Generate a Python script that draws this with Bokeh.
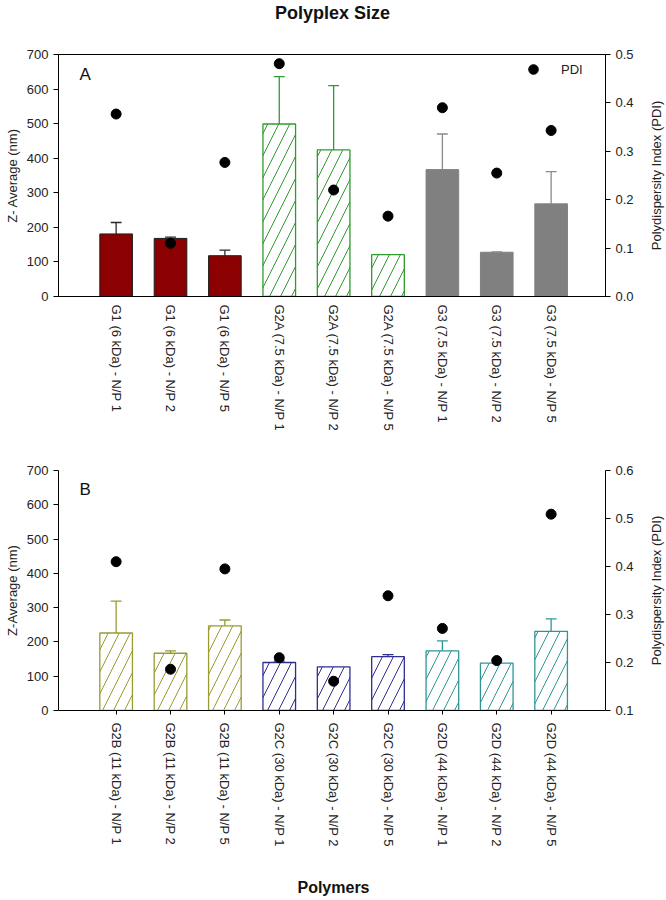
import math
from bokeh.plotting import figure
from bokeh.models import (Range1d, LinearAxis, FixedTicker, Legend, LegendItem, Label,
                          ColumnDataSource, NumeralTickFormatter)
from bokeh.layouts import column, row
from bokeh.embed import file_html
from bokeh.resources import INLINE

FONT = "Liberation Sans"

# ---------------- Panel A data ----------------
labels_a = ["G1 (6 kDa) - N/P 1", "G1 (6 kDa) - N/P 2", "G1 (6 kDa) - N/P 5",
            "G2A (7.5 kDa) - N/P 1", "G2A (7.5 kDa) - N/P 2", "G2A (7.5 kDa) - N/P 5",
            "G3 (7.5 kDa) - N/P 1", "G3 (7.5 kDa) - N/P 2", "G3 (7.5 kDa) - N/P 5"]
groups_a = ["G1", "G1", "G1", "G2A", "G2A", "G2A", "G3", "G3", "G3"]
zavg_a = [181, 168, 118, 499, 424, 121, 367, 128, 268]
zerr_a = [33, 4, 16, 137, 186, 0, 103, 1, 93]
pdi_a = [0.377, 0.110, 0.277, 0.481, 0.220, 0.166, 0.390, 0.255, 0.343]

# ---------------- Panel B data ----------------
labels_b = ["G2B (11 kDa) - N/P 1", "G2B (11 kDa) - N/P 2", "G2B (11 kDa) - N/P 5",
            "G2C (30 kDa) - N/P 1", "G2C (30 kDa) - N/P 2", "G2C (30 kDa) - N/P 5",
            "G2D (44 kDa) - N/P 1", "G2D (44 kDa) - N/P 2", "G2D (44 kDa) - N/P 5"]
groups_b = ["G2B", "G2B", "G2B", "G2C", "G2C", "G2C", "G2D", "G2D", "G2D"]
zavg_b = [226, 167, 247, 140, 127, 157, 174, 138, 231]
zerr_b = [93, 7, 17, 4, 0, 6, 29, 0, 36]
pdi_b = [0.410, 0.186, 0.395, 0.210, 0.161, 0.339, 0.271, 0.204, 0.509]

zavg_ticks = [0, 100, 200, 300, 400, 500, 600, 700]
pdi_ticks_a = [0.0, 0.1, 0.2, 0.3, 0.4, 0.5]
pdi_ticks_b = [0.1, 0.2, 0.3, 0.4, 0.5, 0.6]

STYLE = {
    "G1": dict(fill="#8b0000", line="#1e1e1e", err="#2a2a2a", hatch=False),
    "G2A": dict(fill="white", line="#2f9a2f", err="#2f9a2f", hatch=True),
    "G3": dict(fill="#808080", line="#808080", err="#8a8a8a", hatch=False),
    "G2B": dict(fill="white", line="#9a9a32", err="#9a9a32", hatch=True),
    "G2C": dict(fill="white", line="#2e2e92", err="#2e2e92", hatch=True),
    "G2D": dict(fill="white", line="#2f9696", err="#2f9696", hatch=True),
}

MAIN_W = 639       # width of each chart figure
SIDE_W = 26        # strip holding the right-axis title
TOTAL_W = MAIN_W + SIDE_W
FRAME_L, FRAME_R = 58, 605
PDI_TITLE = "Polydispersity Index (PDI)"


def style_axis(ax, tick_out=5):
    ax.axis_line_color = "black"
    ax.axis_line_width = 1
    ax.major_tick_out = tick_out
    ax.major_tick_in = 0
    ax.major_tick_line_color = "black"
    ax.minor_tick_line_color = None
    ax.major_label_text_font = FONT
    ax.major_label_text_font_size = "13px"
    ax.major_label_text_color = "#222222"
    ax.axis_label_text_font = FONT
    ax.axis_label_text_font_size = "13px"
    ax.axis_label_text_font_style = "normal"
    ax.axis_label_text_color = "#222222"


def strip(width, height, text, x, y, size):
    s = figure(width=width, height=height, x_axis_type=None, y_axis_type=None,
               output_backend="svg", toolbar_location=None, min_border=0,
               outline_line_color=None)
    s.add_layout(Label(x=x, y=y, x_units="screen", y_units="screen", text=text,
                       text_align="center", text_baseline="middle", text_font=FONT,
                       text_font_size=size, text_font_style="bold", text_color="#111111"))
    return s


def side_title(height, text, top, frame_h):
    # a tick-less left axis whose label reads bottom-to-top, like the reference's right title
    s = figure(width=SIDE_W, height=height, x_range=Range1d(0, 1), y_range=Range1d(0, 1),
               x_axis_type=None, output_backend="svg", toolbar_location=None,
               min_border_left=SIDE_W - 2, min_border_right=0, min_border_top=top,
               min_border_bottom=height - top - frame_h, outline_line_color=None)
    s.grid.visible = False
    ax = s.yaxis[0]
    ax.ticker = FixedTicker(ticks=[])
    ax.axis_line_color = None
    ax.major_tick_line_color = None
    ax.minor_tick_line_color = None
    ax.axis_label = text
    ax.axis_label_standoff = 0
    ax.axis_label_text_font = FONT
    ax.axis_label_text_font_size = "13px"
    ax.axis_label_text_font_style = "normal"
    ax.axis_label_text_color = "#222222"
    return s


def panel(labels, groups, zavg, zerr, pdi, pdi_lo, pdi_hi, pdi_ticks, letter, letter_y,
          ylabel, height, top, frame_h, xtick_len, outline):
    xs = list(range(1, len(labels) + 1))
    p = figure(width=MAIN_W, height=height, x_range=Range1d(-0.06, 10.0),
               y_range=Range1d(0, 700), output_backend="svg", toolbar_location=None,
               min_border_left=FRAME_L, min_border_right=MAIN_W - FRAME_R,
               min_border_top=top, min_border_bottom=height - top - frame_h)
    p.xgrid.visible = False
    p.ygrid.visible = False
    p.outline_line_color = "black" if outline else None
    p.extra_y_ranges = {"pdi": Range1d(pdi_lo, pdi_hi)}

    def src(idx):
        return ColumnDataSource(dict(
            x=[xs[i] for i in idx],
            top=[zavg[i] for i in idx],
            fill=[STYLE[groups[i]]["fill"] for i in idx],
            line=[STYLE[groups[i]]["line"] for i in idx]))

    solid = [i for i, g in enumerate(groups) if not STYLE[g]["hatch"]]
    hatched = [i for i, g in enumerate(groups) if STYLE[g]["hatch"]]
    if solid:
        p.vbar(x="x", top="top", bottom=0, width=0.6, source=src(solid),
               fill_color="fill", line_color="line", line_width=1)
    if hatched:
        p.vbar(x="x", top="top", bottom=0, width=0.6, source=src(hatched),
               fill_color="white", line_color="line", line_width=1.3,
               hatch_pattern="/", hatch_color="line", hatch_scale=22, hatch_weight=1)

    eidx = [i for i in range(len(xs)) if zerr[i] > 0]
    es = ColumnDataSource(dict(
        x=[xs[i] for i in eidx],
        xl=[xs[i] - 0.1 for i in eidx],
        xr=[xs[i] + 0.1 for i in eidx],
        y0=[zavg[i] for i in eidx],
        y1=[zavg[i] + zerr[i] for i in eidx],
        c=[STYLE[groups[i]]["err"] for i in eidx]))
    p.segment(x0="x", y0="y0", x1="x", y1="y1", line_color="c", line_width=1.3, source=es)
    p.segment(x0="xl", y0="y1", x1="xr", y1="y1", line_color="c", line_width=1.3, source=es)

    sc = p.scatter(xs, pdi, y_range_name="pdi", size=10, color="black")

    yl = p.yaxis[0]
    yl.ticker = FixedTicker(ticks=zavg_ticks)
    yl.axis_label = ylabel
    style_axis(yl)
    yl.axis_label_standoff = 4

    yr = LinearAxis(y_range_name="pdi", ticker=FixedTicker(ticks=pdi_ticks),
                    formatter=NumeralTickFormatter(format="0.0"))
    style_axis(yr)
    p.add_layout(yr, "right")

    xa = p.xaxis[0]
    xa.ticker = FixedTicker(ticks=xs)
    xa.major_label_overrides = {x: l for x, l in zip(xs, labels)}
    xa.major_label_orientation = -math.pi / 2
    style_axis(xa, tick_out=xtick_len)
    xa.major_label_standoff = 8

    p.add_layout(Label(x=21, y=letter_y, x_units="screen", y_units="screen", text=letter,
                       text_font=FONT, text_font_size="17px", text_baseline="middle",
                       text_color="#111111"))
    return p, sc


# title strip (page y 0..30)
title = strip(TOTAL_W, 30, "Polyplex Size", 332, 18, "18px")

# panel A (page y 30..462), frame top at page 54
HA = 432
pa, sca = panel(labels_a, groups_a, zavg_a, zerr_a, pdi_a, 0.0, 0.5, pdi_ticks_a, "A", 222,
                "Z- Average (nm)", HA, 24, 242, 0, True)
leg = Legend(items=[LegendItem(label="PDI", renderers=[sca])], location=(463, 215),
             padding=0, margin=0, spacing=0, glyph_width=24, glyph_height=24,
             label_height=24, label_standoff=16, border_line_color=None,
             background_fill_alpha=0, label_text_font=FONT, label_text_font_size="13px",
             label_text_color="#222222")
pa.add_layout(leg, "center")
ra = side_title(HA, PDI_TITLE, 0, 270)          # centred at page y 165

# panel B (page y 462..866), frame top at page 470
HB = 404
pb, scb = panel(labels_b, groups_b, zavg_b, zerr_b, pdi_b, 0.1, 0.6, pdi_ticks_b, "B", 221,
                "Z-Average (nm)", HB, 8, 240, 4, False)
rb = side_title(HB, PDI_TITLE, 0, 254)          # centred at page y 589

# x-axis title strip (page y 866..898)
xtitle = strip(TOTAL_W, 32, "Polymers", 333, 11, "16px")

layout = column(title, row(pa, ra, spacing=0), row(pb, rb, spacing=0), xtitle, spacing=0)
open("out.html", "w").write(file_html(layout, INLINE))
